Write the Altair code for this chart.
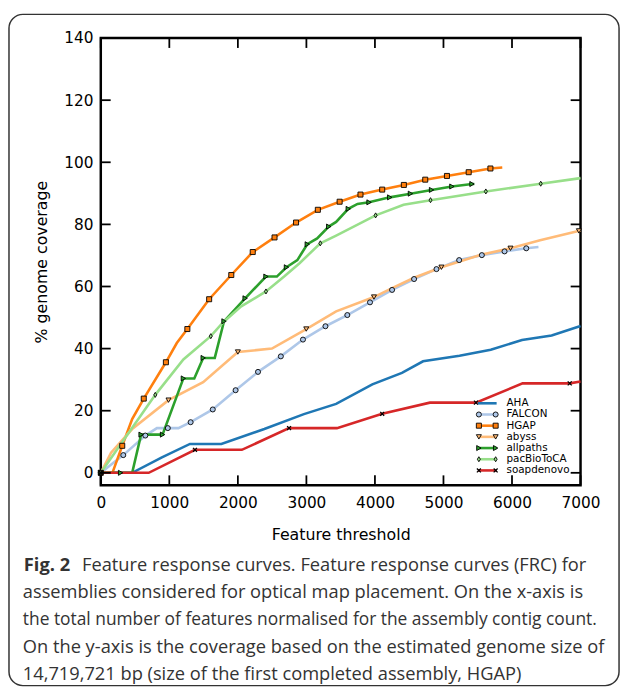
import altair as alt
import pandas as pd

# ---------------- data ----------------
SERIES = ["AHA", "FALCON", "HGAP", "abyss", "allpaths", "pacBioToCA", "soapdenovo"]
COLORS = ["#1f77b4", "#aec7e8", "#ff7f0e", "#ffbb78", "#2ca02c", "#98df8a", "#d62728"]

AHA_x = [0, 458, 892, 1301, 1759, 2386, 2964, 3434, 3962, 4394, 4702, 5234, 5690, 6146, 6578, 7000]
AHA_y = [0, 0, 5.0, 9.3, 9.3, 14.1, 18.9, 22.2, 28.5, 32.2, 35.9, 37.7, 39.6, 42.8, 44.2, 47.3]

FALCON_x = [0, 328, 650, 819, 978, 1133, 1311, 1634, 1967, 2294, 2627, 2950, 3278, 3597, 3928,
            4250, 4571, 4898, 5229, 5560, 5891, 6208, 6386]
FALCON_y = [0, 5.7, 12.0, 14.4, 14.4, 14.4, 16.3, 20.4, 26.6, 32.5, 37.5, 42.9, 47.2, 50.8, 54.9,
            58.9, 62.4, 65.6, 68.5, 70.1, 71.3, 72.3, 72.7]
FALCON_mx = [0, 328, 650, 978, 1311, 1634, 1967, 2294, 2627, 2950, 3278, 3597, 3928, 4250, 4571,
             4898, 5229, 5560, 5891, 6208]
FALCON_my = [0, 5.7, 12.0, 14.4, 16.3, 20.4, 26.6, 32.5, 37.5, 42.9, 47.2, 50.8, 54.9, 58.9, 62.4,
             65.6, 68.5, 70.1, 71.3, 72.3]

HGAP_x = [0, 170, 313, 458, 627, 950, 1109, 1263, 1581, 1904, 2217, 2535, 2849, 3167, 3485, 3789,
          4106, 4422, 4734, 5051, 5368, 5685, 5858]
HGAP_y = [0, 0, 8.7, 17.3, 23.9, 35.6, 41.8, 46.3, 55.9, 63.7, 71.1, 75.8, 80.6, 84.7, 87.3, 89.6,
          91.2, 92.7, 94.4, 95.6, 96.8, 98.0, 98.3]
HGAP_mx = [0, 313, 627, 950, 1263, 1581, 1904, 2217, 2535, 2849, 3167, 3485, 3789, 4106, 4422,
           4734, 5051, 5368, 5685]
HGAP_my = [0, 8.7, 23.9, 35.6, 46.3, 55.9, 63.7, 71.1, 75.8, 80.6, 84.7, 87.3, 89.6, 91.2, 92.7,
           94.4, 95.6, 96.8, 98.0]

abyss_x = [0, 150, 458, 988, 1494, 2000, 2497, 2998, 3434, 3986, 4250, 4571, 4970, 5546, 5978,
           6410, 7000]
abyss_y = [0, 6.5, 14.1, 23.4, 29.2, 38.9, 40.0, 46.3, 52.0, 56.6, 59.5, 62.8, 66.2, 70.2, 72.3,
           74.9, 78.0]
abyss_mx = [0, 988, 2000, 2998, 3986, 4970, 5978, 6976]
abyss_my = [0, 23.4, 38.9, 46.3, 56.6, 66.2, 72.3, 77.9]

allpaths_x = [0, 458, 588, 901, 1205, 1364, 1494, 1663, 1798, 2106, 2410, 2569, 2709, 2868, 3013,
              3157, 3326, 3434, 3611, 3746, 3914, 4216, 4518, 4826, 5123, 5416, 5450]
allpaths_y = [0, 0, 12.3, 12.3, 30.4, 30.4, 37.0, 37.0, 48.8, 56.2, 63.2, 63.2, 66.2, 68.5, 73.6,
              75.5, 79.3, 80.8, 85.0, 86.6, 87.1, 88.7, 89.9, 91.1, 92.2, 93.0, 93.0]
allpaths_mx = [0, 289, 588, 901, 1205, 1494, 1798, 2106, 2410, 2709, 3013, 3326, 3611, 3914, 4216,
               4518, 4826, 5123, 5416]
allpaths_my = [0, 0, 12.3, 12.3, 30.4, 37.0, 48.8, 56.2, 63.2, 66.2, 73.6, 79.3, 85.0, 87.1, 88.7,
               89.9, 91.1, 92.2, 93.0]

pacBioToCA_x = [0, 795, 1205, 1605, 1783, 2049, 2410, 2675, 2900, 3203, 3434, 4010, 4418, 4811,
                5618, 6419, 7000]
pacBioToCA_y = [0, 25.1, 36.5, 44.0, 48.4, 53.6, 58.4, 63.2, 67.5, 73.9, 76.4, 82.9, 86.3, 87.8,
                90.6, 93.1, 94.9]
pacBioToCA_mx = [0, 795, 1605, 2410, 3203, 4010, 4811, 5618, 6419]
pacBioToCA_my = [0, 25.1, 44.0, 58.4, 73.9, 82.9, 87.8, 90.6, 93.1]

soapdenovo_x = [0, 699, 1374, 2058, 2747, 3446, 4106, 4802, 5474, 6155, 6842, 7000]
soapdenovo_y = [0, 0, 7.4, 7.4, 14.4, 14.4, 19.0, 22.6, 22.6, 28.8, 28.8, 29.4]
soapdenovo_mx = [0, 1374, 2747, 4106, 5474, 6842]
soapdenovo_my = [0, 7.4, 14.4, 19.0, 22.6, 28.8]

XTICKS = [0, 1000, 2000, 3000, 4000, 5000, 6000, 7000]
YTICKS = [0, 20, 40, 60, 80, 100, 120, 140]

MARKER_SERIES = ["FALCON", "HGAP", "abyss", "allpaths", "pacBioToCA"]
MARKER_SHAPES = ["circle", "square", "triangle-down", "triangle-right",
                 "M0,-1L0.6,0L0,1L-0.6,0Z"]
CROSS_SHAPE = "M-1,-1L1,1M-1,1L1,-1"

CAPTION_BOLD = "Fig. 2"
CAPTION_FIRST = "Feature response curves. Feature response curves (FRC) for"
CAPTION_REST = [
    "assemblies considered for optical map placement. On the x-axis is",
    "the total number of features normalised for the assembly contig count.",
    "On the y-axis is the coverage based on the estimated genome size of",
    "14,719,721 bp (size of the first completed assembly, HGAP)",
]
CAPTION_REST_SIZES = [18.5, 17.6, 18.5, 18.5]

# ---------------- tables ----------------
lines_src = {
    "AHA": (AHA_x, AHA_y), "FALCON": (FALCON_x, FALCON_y), "HGAP": (HGAP_x, HGAP_y),
    "abyss": (abyss_x, abyss_y), "allpaths": (allpaths_x, allpaths_y),
    "pacBioToCA": (pacBioToCA_x, pacBioToCA_y), "soapdenovo": (soapdenovo_x, soapdenovo_y),
}
marks_src = {
    "FALCON": (FALCON_mx, FALCON_my), "HGAP": (HGAP_mx, HGAP_my), "abyss": (abyss_mx, abyss_my),
    "allpaths": (allpaths_mx, allpaths_my), "pacBioToCA": (pacBioToCA_mx, pacBioToCA_my),
    "soapdenovo": (soapdenovo_mx, soapdenovo_my),
}
rows = []
for s, (xs, ys) in lines_src.items():
    for i, (a, b) in enumerate(zip(xs, ys)):
        rows.append({"series": s, "x": a, "y": b, "i": i})
line_df = pd.DataFrame(rows)
rows = []
for s, (xs, ys) in marks_src.items():
    for a, b in zip(xs, ys):
        rows.append({"series": s, "x": a, "y": b})
mark_df = pd.DataFrame(rows)
leg_df = pd.DataFrame({"series": SERIES, "k": list(range(len(SERIES)))})

# ---------------- chart ----------------
W, H = 486, 453
FONT = "DejaVu Sans"
CAPFONT = "Open Sans"
CAPSIZE = 18.5
xscale = alt.Scale(domain=[0, 7000], nice=False, zero=False)
yscale = alt.Scale(domain=[-4, 140], nice=False, zero=False)
cscale = alt.Scale(domain=SERIES, range=COLORS)
sscale = alt.Scale(domain=MARKER_SERIES, range=MARKER_SHAPES)

x_axis = alt.Axis(values=XTICKS, format="d", ticks=False, domain=False, grid=False,
                  labelFont=FONT, labelFontSize=15.5, labelColor="black", labelPadding=11,
                  labelFlush=False, title="Feature threshold", titleFont=FONT, titleFontSize=16,
                  titleFontWeight="normal", titleColor="black", titleY=50,
                  titleBaseline="middle")
y_axis = alt.Axis(values=YTICKS, format="d", ticks=False, domain=False, grid=False,
                  labelFont=FONT, labelFontSize=15.5, labelColor="black", labelPadding=8,
                  title="% genome coverage", titleFont=FONT, titleFontSize=16,
                  titleFontWeight="normal", titleColor="black", titleX=-60, titleY=H / 2,
                  titleAngle=270, titleBaseline="middle", titleAlign="center")

X = alt.X("x:Q", scale=xscale, axis=x_axis)
Y = alt.Y("y:Q", scale=yscale, axis=y_axis)
one = alt.Data(values=[{}])

box = alt.Chart(one).mark_rect(cornerRadius=14, fillOpacity=0, stroke="#333",
                               strokeWidth=1.5).encode(
    x=alt.value(-93), x2=alt.value(525), y=alt.value(-24), y2=alt.value(656))

cap_layers = [
    alt.Chart(one).mark_text(text=CAPTION_BOLD, font=CAPFONT, fontSize=CAPSIZE,
                             fontWeight="bold", align="left", baseline="alphabetic",
                             color="#333").encode(x=alt.value(-78), y=alt.value(540)),
    alt.Chart(one).mark_text(text=CAPTION_FIRST, font=CAPFONT, fontSize=CAPSIZE,
                             align="left", baseline="alphabetic",
                             color="#333").encode(x=alt.value(-19), y=alt.value(540)),
]
for j, (txt, fs) in enumerate(zip(CAPTION_REST, CAPTION_REST_SIZES)):
    cap_layers.append(
        alt.Chart(one).mark_text(text=txt, font=CAPFONT, fontSize=fs, align="left",
                                 baseline="alphabetic", color="#333").encode(
            x=alt.value(-79), y=alt.value(567.5 + 27.5 * j)))

lines = alt.Chart(line_df).mark_line(strokeWidth=2.6).encode(
    x=X, y=Y, color=alt.Color("series:N", scale=cscale, legend=None), order="i:Q")

points = alt.Chart(mark_df).transform_filter(
    alt.datum.series != "soapdenovo").mark_point(
    filled=True, size=26, stroke="black", strokeWidth=0.9, opacity=1).encode(
    x=X, y=Y, color=alt.Color("series:N", scale=cscale, legend=None),
    shape=alt.Shape("series:N", scale=sscale, legend=None))

crosses = alt.Chart(mark_df).transform_filter(
    alt.datum.series == "soapdenovo").mark_point(
    shape=CROSS_SHAPE, size=16, filled=False, stroke="black", strokeWidth=1.3,
    opacity=1).encode(x=X, y=Y)

xt = alt.Chart(pd.DataFrame({"v": XTICKS}))
yt = alt.Chart(pd.DataFrame({"v": YTICKS}))
XV = alt.X("v:Q", scale=xscale, axis=x_axis)
YV = alt.Y("v:Q", scale=yscale, axis=y_axis)
tick_kw = dict(color="black", strokeWidth=1.8)
t_bottom = xt.mark_rule(**tick_kw).encode(x=XV, y=alt.value(H), y2=alt.value(H - 10))
t_top = xt.mark_rule(**tick_kw).encode(x=XV, y=alt.value(0), y2=alt.value(10))
t_left = yt.mark_rule(**tick_kw).encode(y=YV, x=alt.value(0), x2=alt.value(10))
t_right = yt.mark_rule(**tick_kw).encode(y=YV, x=alt.value(W), x2=alt.value(W - 10))

main = alt.layer(box, *cap_layers, lines, points, crosses,
                 t_bottom, t_top, t_left, t_right)

# legend (inside, lower right)
LY = alt.Y("k:Q", scale=alt.Scale(domain=[0, 6], range=[370, 438]), axis=None)
leg = alt.Chart(leg_df)
leg_rule = leg.mark_rule(strokeWidth=2.6).encode(
    x=alt.value(382), x2=alt.value(401), y=LY,
    color=alt.Color("series:N", scale=cscale, legend=None))
leg_pts = []
for px in (383, 400):
    leg_pts.append(leg.transform_filter(
        alt.FieldOneOfPredicate(field="series", oneOf=MARKER_SERIES)).mark_point(
        filled=True, size=26, stroke="black", strokeWidth=0.9, opacity=1).encode(
        x=alt.value(px), y=LY, color=alt.Color("series:N", scale=cscale, legend=None),
        shape=alt.Shape("series:N", scale=sscale, legend=None)))
    leg_pts.append(leg.transform_filter(alt.datum.series == "soapdenovo").mark_point(
        shape=CROSS_SHAPE, size=16, filled=False, stroke="black", strokeWidth=1.3,
        opacity=1).encode(x=alt.value(px), y=LY))
leg_text = leg.mark_text(font=FONT, fontSize=10.5, align="left", baseline="middle",
                         color="black").encode(x=alt.value(411), y=LY, text="series:N")
legend = alt.layer(leg_rule, *leg_pts, leg_text)

chart = alt.layer(main, legend).resolve_scale(y="independent").properties(
    width=W, height=H,
    autosize=alt.AutoSizeParams(type="none"),
    padding={"left": 94, "top": 26, "right": 42, "bottom": 205},
).configure_view(stroke="black", strokeWidth=2.5)

chart.save("out.html", embed_options={"renderer": "svg", "actions": False})
